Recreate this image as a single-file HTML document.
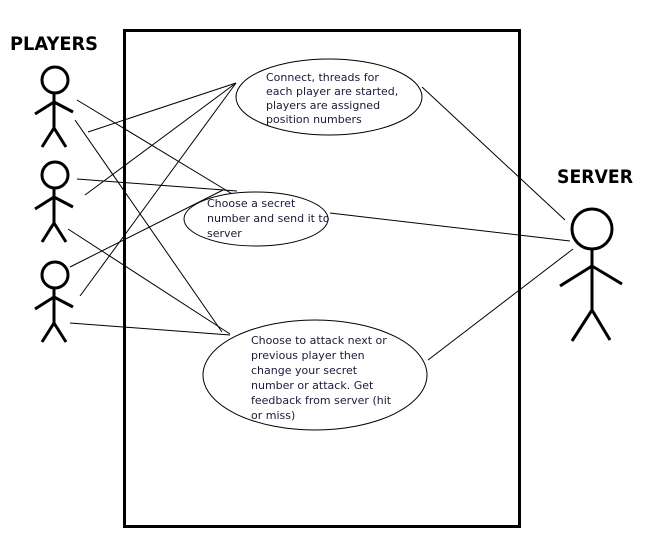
<!DOCTYPE html>
<html><head><meta charset="utf-8"><style>
html,body{margin:0;padding:0;background:#fff;width:657px;height:555px;overflow:hidden}
text{font-family:"DejaVu Sans","Liberation Sans",sans-serif}
</style></head><body>
<svg width="657" height="555" viewBox="0 0 657 555" xmlns="http://www.w3.org/2000/svg">
<rect x="124.5" y="30.5" width="395" height="496" fill="none" stroke="#000" stroke-width="3"/>
<g stroke="#000" stroke-width="1" fill="none">
<line x1="77" y1="100" x2="234" y2="195"/>
<line x1="88" y1="132" x2="236" y2="83"/>
<line x1="75" y1="120" x2="222" y2="332"/>
<line x1="77" y1="179" x2="237" y2="191"/>
<line x1="85" y1="195" x2="236" y2="83"/>
<line x1="68" y1="229" x2="230" y2="334"/>
<line x1="70" y1="267" x2="223" y2="190"/>
<line x1="80" y1="296" x2="236" y2="83"/>
<line x1="70" y1="323" x2="230" y2="335"/>
<line x1="422" y1="87" x2="565" y2="220"/>
<line x1="330" y1="213" x2="570" y2="241"/>
<line x1="428" y1="360" x2="573" y2="249"/>
<ellipse cx="329" cy="97" rx="93" ry="38" fill="#fff"/>
<ellipse cx="256" cy="219" rx="72" ry="27" fill="#fff"/>
<ellipse cx="315" cy="375" rx="112" ry="55" fill="#fff"/>
</g>
<g stroke="#000" stroke-width="3" fill="none">
<circle cx="55" cy="80" r="13"/><line x1="54" y1="93" x2="54" y2="128"/><line x1="35" y1="114" x2="54" y2="102"/><line x1="54" y1="102" x2="73" y2="112"/><line x1="54" y1="128" x2="42" y2="147"/><line x1="54" y1="128" x2="66" y2="147"/>
<circle cx="55" cy="175" r="13"/><line x1="54" y1="188" x2="54" y2="223"/><line x1="35" y1="209" x2="54" y2="197"/><line x1="54" y1="197" x2="73" y2="207"/><line x1="54" y1="223" x2="42" y2="242"/><line x1="54" y1="223" x2="66" y2="242"/>
<circle cx="55" cy="275" r="13"/><line x1="54" y1="288" x2="54" y2="323"/><line x1="35" y1="309" x2="54" y2="297"/><line x1="54" y1="297" x2="73" y2="307"/><line x1="54" y1="323" x2="42" y2="342"/><line x1="54" y1="323" x2="66" y2="342"/>
<circle cx="592" cy="229" r="20"/><line x1="592" y1="249" x2="592" y2="310"/><line x1="560" y1="286" x2="592" y2="266"/><line x1="592" y1="266" x2="622" y2="284"/><line x1="592" y1="310" x2="572" y2="341"/><line x1="592" y1="310" x2="610" y2="340"/>
</g>
<text x="10" y="50" font-size="19" font-weight="bold" fill="#000" textLength="88" lengthAdjust="spacingAndGlyphs">PLAYERS</text>
<text x="557" y="183" font-size="19" font-weight="bold" fill="#000" textLength="76" lengthAdjust="spacingAndGlyphs">SERVER</text>
<g font-size="11" fill="#1a1a3a">
<text x="266" y="81">Connect, threads for</text>
<text x="266" y="95">each player are started,</text>
<text x="266" y="109">players are assigned</text>
<text x="266" y="123">position numbers</text>
<text x="207" y="207">Choose a secret</text>
<text x="207" y="222">number and send it to</text>
<text x="207" y="237">server</text>
<text x="251" y="344">Choose to attack next or</text>
<text x="251" y="359">previous player then</text>
<text x="251" y="374">change your secret</text>
<text x="251" y="389">number or attack. Get</text>
<text x="251" y="404">feedback from server (hit</text>
<text x="251" y="419">or miss)</text>
</g>
</svg>
</body></html>
